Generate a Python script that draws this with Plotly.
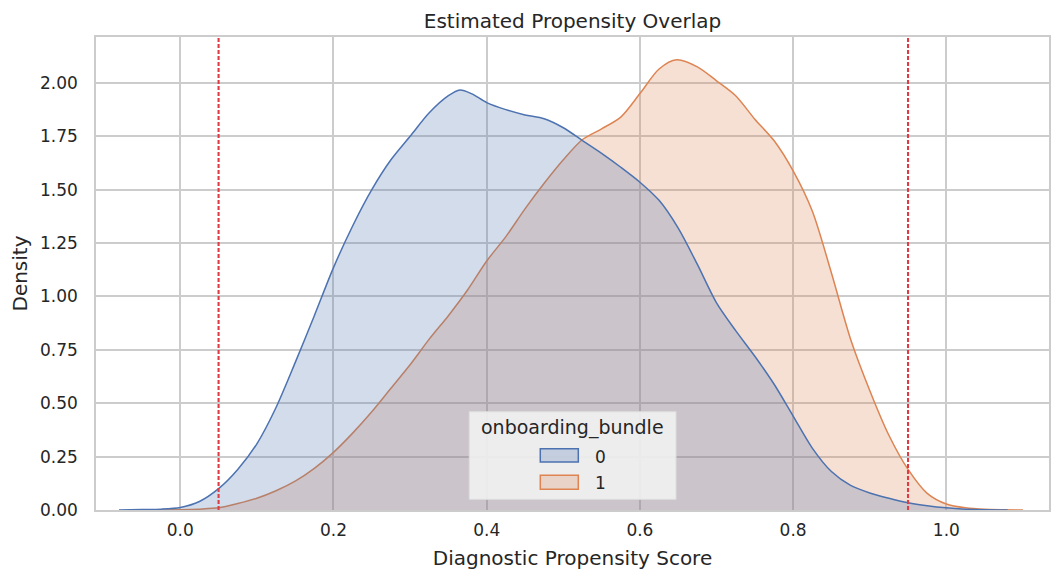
import plotly.graph_objects as go

# density curves (group 0 = blue, group 1 = orange)
x_group0 = [-0.08, -0.05, -0.025, 0.0, 0.025, 0.05, 0.075, 0.1, 0.125, 0.15, 0.175,
            0.2, 0.225, 0.25, 0.275, 0.3, 0.325, 0.35, 0.365, 0.38, 0.4, 0.425,
            0.45, 0.475, 0.5, 0.525, 0.55, 0.575, 0.6, 0.625, 0.65, 0.675, 0.7,
            0.725, 0.75, 0.775, 0.8, 0.825, 0.85, 0.875, 0.9, 0.925, 0.95, 0.975,
            1.0, 1.025, 1.05, 1.08]
y_group0 = [0.0, 0.002, 0.004, 0.012, 0.04, 0.10, 0.19, 0.31, 0.48, 0.69, 0.91,
            1.135, 1.33, 1.50, 1.64, 1.75, 1.86, 1.94, 1.967, 1.95, 1.908, 1.875,
            1.85, 1.832, 1.79, 1.73, 1.67, 1.605, 1.535, 1.45, 1.32, 1.15, 0.97,
            0.84, 0.72, 0.59, 0.44, 0.29, 0.18, 0.115, 0.08, 0.055, 0.034, 0.02,
            0.01, 0.004, 0.001, 0.0]

x_group1 = [-0.03, 0.0, 0.025, 0.05, 0.075, 0.1, 0.125, 0.15, 0.175, 0.2, 0.225,
            0.25, 0.275, 0.3, 0.325, 0.35, 0.375, 0.4, 0.425, 0.45, 0.475, 0.5,
            0.525, 0.55, 0.575, 0.6, 0.625, 0.648, 0.675, 0.7, 0.725, 0.75, 0.775,
            0.8, 0.825, 0.85, 0.875, 0.9, 0.925, 0.95, 0.975, 1.0, 1.025, 1.05, 1.1]
y_group1 = [0.0, 0.001, 0.004, 0.01, 0.03, 0.055, 0.09, 0.135, 0.195, 0.27, 0.36,
            0.46, 0.57, 0.68, 0.80, 0.91, 1.03, 1.166, 1.28, 1.41, 1.53, 1.64,
            1.735, 1.785, 1.84, 1.95, 2.065, 2.108, 2.075, 2.01, 1.94, 1.83, 1.73,
            1.588, 1.40, 1.11, 0.80, 0.56, 0.35, 0.19, 0.078, 0.028, 0.01, 0.003, 0.0]

trim_bounds = [0.05, 0.95]

x_ticks = [0.0, 0.2, 0.4, 0.6, 0.8, 1.0]
y_ticks = [0.0, 0.25, 0.5, 0.75, 1.0, 1.25, 1.5, 1.75, 2.0]

legend_title = "onboarding_bundle"
legend_labels = ["0", "1"]

font = "DejaVu Sans"
grid = "#cccccc"
line_cols = ["#4C72B0", "#DD8452"]
fill_cols = ["rgba(76,114,176,0.25)", "rgba(221,132,82,0.25)"]

fig = go.Figure()

# seaborn draws the last hue level first, so group 1 goes underneath
series = list(zip(legend_labels, [x_group0, x_group1], [y_group0, y_group1],
                  line_cols, fill_cols))
for name, xs, ys, lc, fc in reversed(series):
    fig.add_trace(go.Scatter(
        x=xs, y=ys, name=name, mode="lines",
        line=dict(color=lc, width=1.5, shape="spline", smoothing=0.8),
        fill="tozeroy", fillcolor=fc, showlegend=False,
    ))

for b in trim_bounds:
    fig.add_vline(x=b, line=dict(color="#dd3c44", width=2.1, dash="4px,2px"))

# legend drawn by hand so the patches look like matplotlib's
fig.add_shape(type="rect", xref="paper", yref="paper",
              x0=0.3917, x1=0.6086, y0=0.0226, y1=0.2078,
              fillcolor="rgba(243,243,243,0.88)", line=dict(color="#dedede", width=1))
fig.add_annotation(text=legend_title, xref="paper", yref="paper", x=0.4995, y=0.174,
                   showarrow=False, font=dict(size=19), xanchor="center", yanchor="middle")
patch_y = [(0.1015, 0.1296), (0.0438, 0.0734)]
text_y = [0.112, 0.0577]
for lab, lc, fc, (py0, py1), ty in zip(legend_labels, line_cols, fill_cols, patch_y, text_y):
    fig.add_shape(type="rect", xref="paper", yref="paper",
                  x0=0.4662, x1=0.5061, y0=py0, y1=py1,
                  fillcolor=fc, line=dict(color=lc, width=1.5))
    fig.add_annotation(text=lab, xref="paper", yref="paper", x=0.5215, y=ty,
                       showarrow=False, font=dict(size=17), xanchor="left", yanchor="middle")

fig.update_layout(
    width=1060, height=580,
    margin=dict(l=88, r=19, t=29, b=78),
    paper_bgcolor="white", plot_bgcolor="white",
    font=dict(family=font, color="#262626", size=17),
    title=dict(text="Estimated Propensity Overlap", x=0.5, xref="paper", xanchor="center",
               y=0.977, yanchor="middle", font=dict(size=20)),
    showlegend=False,
)

fig.update_xaxes(
    range=[-0.11, 1.134], tickvals=x_ticks, tickformat=".1f",
    showgrid=True, gridcolor=grid, gridwidth=1.6,
    showline=True, linecolor=grid, linewidth=1.6, mirror=True,
    zeroline=False, ticks="", ticklabelstandoff=4, automargin=False,
    title=dict(text="Diagnostic Propensity Score", font=dict(size=20), standoff=12),
)
fig.update_yaxes(
    range=[0, 2.215], tickvals=y_ticks, tickformat=".2f",
    showgrid=True, gridcolor=grid, gridwidth=1.6,
    showline=True, linecolor=grid, linewidth=1.6, mirror=True,
    zeroline=False, ticks="", ticklabelstandoff=13, automargin=False,
    title=dict(text="Density", font=dict(size=20), standoff=8),
)

fig.write_html("out.html")
